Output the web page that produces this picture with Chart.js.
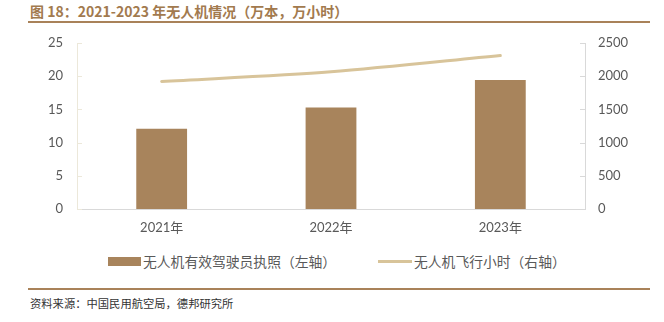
<!DOCTYPE html>
<html lang="zh">
<head>
<meta charset="UTF-8">
<title>2021-2023年无人机情况</title>
<script src="https://cdn.jsdelivr.net/npm/chart.js@4.4.1/dist/chart.umd.min.js"></script>
<style>
    body { margin: 0; background: #fff; }
    .page { position: relative; width: 664px; height: 322px; overflow: hidden; }
    .title {
        position: absolute; left: 30px; top: 1px;
        font: bold 14px "Noto Sans CJK SC", sans-serif;
        color: #a27a4e; white-space: nowrap;
    }
    .rule { position: absolute; left: 28px; width: 622px; height: 2px; background: #a98259; }
    .source {
        position: absolute; left: 30px; top: 295px;
        font: 11.3px "Noto Sans CJK SC", sans-serif; color: #333;
    }
    .legend {
        position: absolute; top: 251px; left: 0; width: 664px;
        font: 13.8px "Noto Sans CJK SC", sans-serif; color: #595959;
    }
    .legend span { position: absolute; white-space: nowrap; top: 0; }
    .sw { position: absolute; }
    #wrap { position: absolute; left: 0; top: 0; width: 664px; height: 245px; }
</style>
</head>
<body>
<div class="page">
    <div class="title">图 18：2021-2023 年无人机情况（万本，万小时）</div>
    <div class="rule" style="top:21px"></div>
    <div id="wrap"><canvas id="myChart"></canvas></div>
    <div class="legend">
        <div class="sw" style="left:108px;top:6px;width:33px;height:9px;background:#a8845c"></div>
        <span style="left:143px">无人机有效驾驶员执照（左轴）</span>
        <div class="sw" style="left:378px;top:9px;width:34px;height:3px;background:#d8c49a"></div>
        <span style="left:414px">无人机飞行小时（右轴）</span>
    </div>
    <div class="rule" style="top:288px"></div>
    <div class="source">资料来源：中国民用航空局，德邦研究所</div>
</div>
<script>
    const years = ['2021年', '2022年', '2023年'];
    const licenses = [12.08, 15.28, 19.44];     // 万本
    const flightHours = [1920, 2067, 2311];     // 万小时

    const tickFont = { family: 'Lato, "Noto Sans CJK SC", sans-serif', size: 13 };

    // short tick marks pointing into the plot on both y axes
    const innerTicks = {
        id: 'innerTicks',
        afterDraw(chart) {
            const ctx = chart.ctx;
            ctx.save();
            ctx.lineWidth = 1;
            [['y', 1, '#ece8da'], ['y1', -1, '#d9d9d9']].forEach(function (a) {
                const s = chart.scales[a[0]];
                const x = a[1] > 0 ? s.right : s.left;
                ctx.strokeStyle = a[2];
                s.ticks.forEach(function (t) {
                    const y = Math.round(s.getPixelForValue(t.value)) + 0.5;
                    ctx.beginPath();
                    ctx.moveTo(x, y);
                    ctx.lineTo(x + a[1] * 5, y);
                    ctx.stroke();
                });
            });
            ctx.restore();
        }
    };

    const ctx = document.getElementById('myChart').getContext('2d');
    const myChart = new Chart(ctx, {
        data: {
            labels: years,
            datasets: [{
                type: 'line',
                label: '无人机飞行小时（右轴）',
                data: flightHours,
                yAxisID: 'y1',
                borderColor: '#d8c49a',
                borderWidth: 3,
                borderCapStyle: 'round',
                tension: 0.3,
                pointRadius: 0,
                order: 0
            }, {
                type: 'bar',
                label: '无人机有效驾驶员执照（左轴）',
                data: licenses,
                yAxisID: 'y',
                backgroundColor: '#a8845c',
                barPercentage: 0.3,
                categoryPercentage: 1,
                order: 1
            }]
        },
        options: {
            responsive: true,
            maintainAspectRatio: false,
            animation: false,
            layout: { padding: { top: 43, left: 0, right: 0, bottom: 0 } },
            plugins: { legend: { display: false }, tooltip: { enabled: false } },
            scales: {
                x: {
                    grid: { display: false, drawTicks: false },
                    border: { color: '#d9d9d9' },
                    ticks: { color: '#595959', font: tickFont, padding: 11 },
                    afterFit: function (s) { s.height = 36; }
                },
                y: {
                    position: 'left',
                    min: 0, max: 25,
                    grid: { display: false, drawTicks: false },
                    border: { color: '#ece8da' },
                    ticks: { stepSize: 5, color: '#595959', font: tickFont, padding: 14 },
                    afterFit: function (s) { s.width = 77; }
                },
                y1: {
                    position: 'right',
                    min: 0, max: 2500,
                    grid: { display: false, drawTicks: false },
                    border: { color: '#d9d9d9' },
                    ticks: {
                        stepSize: 500, color: '#595959', font: tickFont, padding: 13,
                        callback: function (v) { return String(v); }
                    },
                    afterFit: function (s) { s.width = 79; }
                }
            }
        },
        plugins: [innerTicks]
    });
</script>
</body>
</html>
